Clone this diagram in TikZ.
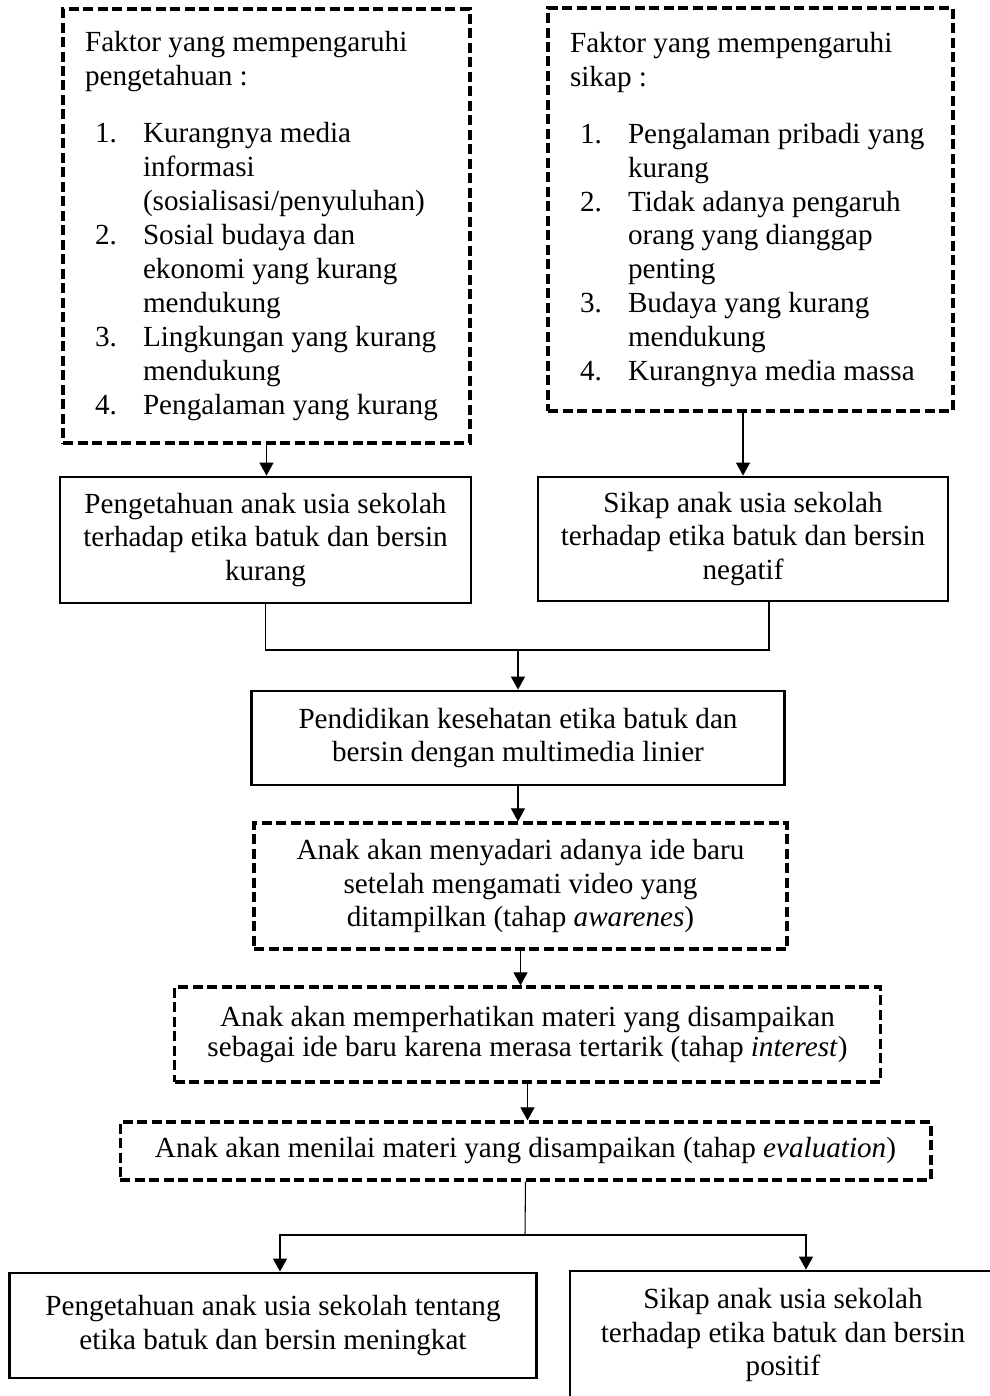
\documentclass[tikz,border=0pt]{standalone}
\usepackage{fontspec}
\setmainfont{Liberation Serif}
\usetikzlibrary{arrows.meta}

\newcommand{\numitem}[2]{\mbox{\hspace*{0.2cm}\makebox[0.96cm][l]{#1}#2}}
\newcommand{\numcont}[1]{\mbox{\hspace*{1.16cm}#1}}

\begin{document}
\begin{tikzpicture}[x=0.02cm,y=-0.02cm,
    font=\fontsize{16.6pt}{19.3pt}\selectfont,
    box/.style={draw,line width=1.6pt,align=center,inner sep=0pt},
    dbox/.style={box,line width=1.8pt,dash pattern=on 0.2cm off 0.09cm},
    line/.style={draw,line width=0.6pt},
    arr/.style={line,-{Triangle[length=0.26cm,width=0.28cm]}}]

  \useasboundingbox (0,0) rectangle (990,1396);

  \begin{scope}[every node/.style={dbox,align=flush left}]
    \node[text width=7.26cm,minimum width=8.14cm,minimum height=8.68cm] (fp) at (266.5,226)
      {\mbox{Faktor yang mempengaruhi}\\
       pengetahuan :\\[0.46cm]
       \numitem{1.}{Kurangnya media}\\
       \numcont{informasi}\\
       \numcont{(sosialisasi/penyuluhan)}\\
       \numitem{2.}{Sosial budaya dan}\\
       \numcont{ekonomi yang kurang}\\
       \numcont{mendukung}\\
       \numitem{3.}{Lingkungan yang kurang}\\
       \numcont{mendukung}\\
       \numitem{4.}{Pengalaman yang kurang}};
    \node[text width=7.22cm,minimum width=8.10cm,minimum height=8.06cm] (sp) at (750.5,209.5)
      {\mbox{Faktor yang mempengaruhi}\\
       sikap :\\[0.46cm]
       \numitem{1.}{Pengalaman pribadi yang}\\
       \numcont{kurang}\\
       \numitem{2.}{Tidak adanya pengaruh}\\
       \numcont{orang yang dianggap}\\
       \numcont{penting}\\
       \numitem{3.}{Budaya yang kurang}\\
       \numcont{mendukung}\\
       \numitem{4.}{Kurangnya media massa}};
  \end{scope}

  \node[box,minimum width=8.22cm,minimum height=2.52cm] (kp) at (265.5,540)
    {Pengetahuan anak usia sekolah\\terhadap etika batuk dan bersin\\kurang};
  \node[box,minimum width=8.20cm,minimum height=2.48cm] (sk) at (743,539)
    {Sikap anak usia sekolah\\terhadap etika batuk dan bersin\\negatif};
  \node[box,minimum width=10.66cm,minimum height=1.88cm] (pk) at (518,738)
    {Pendidikan kesehatan etika batuk dan\\bersin dengan multimedia linier};
  \node[dbox,minimum width=10.66cm,minimum height=2.52cm] (aw) at (520.5,886)
    {Anak akan menyadari adanya ide baru\\setelah mengamati video yang\\ditampilkan (tahap \textit{awarenes})};
  \node[dbox,minimum width=14.12cm,minimum height=1.90cm] (intr) at (527.5,1034.5)
    {Anak akan memperhatikan materi yang disampaikan\\[-0.08cm]sebagai ide baru karena merasa tertarik (tahap \textit{interest})};
  \node[dbox,minimum width=16.22cm,minimum height=1.16cm] (ev) at (525.5,1151)
    {Anak akan menilai materi yang disampaikan (tahap \textit{evaluation})};
  \node[box,minimum width=10.54cm,minimum height=2.10cm] (pt) at (273,1325.5)
    {Pengetahuan anak usia sekolah tentang\\etika batuk dan bersin meningkat};
  \node[box,minimum width=8.52cm,minimum height=2.56cm] (sp2) at (783,1335)
    {Sikap anak usia sekolah\\terhadap etika batuk dan bersin\\positif};

  \coordinate (join) at (518,650);
  \coordinate (split) at (525,1235);

  \draw[arr] (fp) -- (fp |- kp.north);
  \draw[arr] (sk.north |- sp.south) -- (sk.north);
  \draw[line] (kp.south) |- (join);
  \draw[line] ([xshift=0.52cm]sk.south) |- (join);
  \draw[arr] (join) -- (pk.north);
  \draw[arr] (pk.south) -- (pk.south |- aw.north);
  \draw[arr] (aw.south) -- (aw.south |- intr.north);
  \draw[arr] (intr.south) -- (intr.south |- ev.north);
  \draw[line] (ev.south) -- (split);
  \draw[arr] (split) -| ([xshift=0.14cm]pt.north);
  \draw[arr] (split) -| ([xshift=0.46cm]sp2.north);

\end{tikzpicture}
\end{document}
